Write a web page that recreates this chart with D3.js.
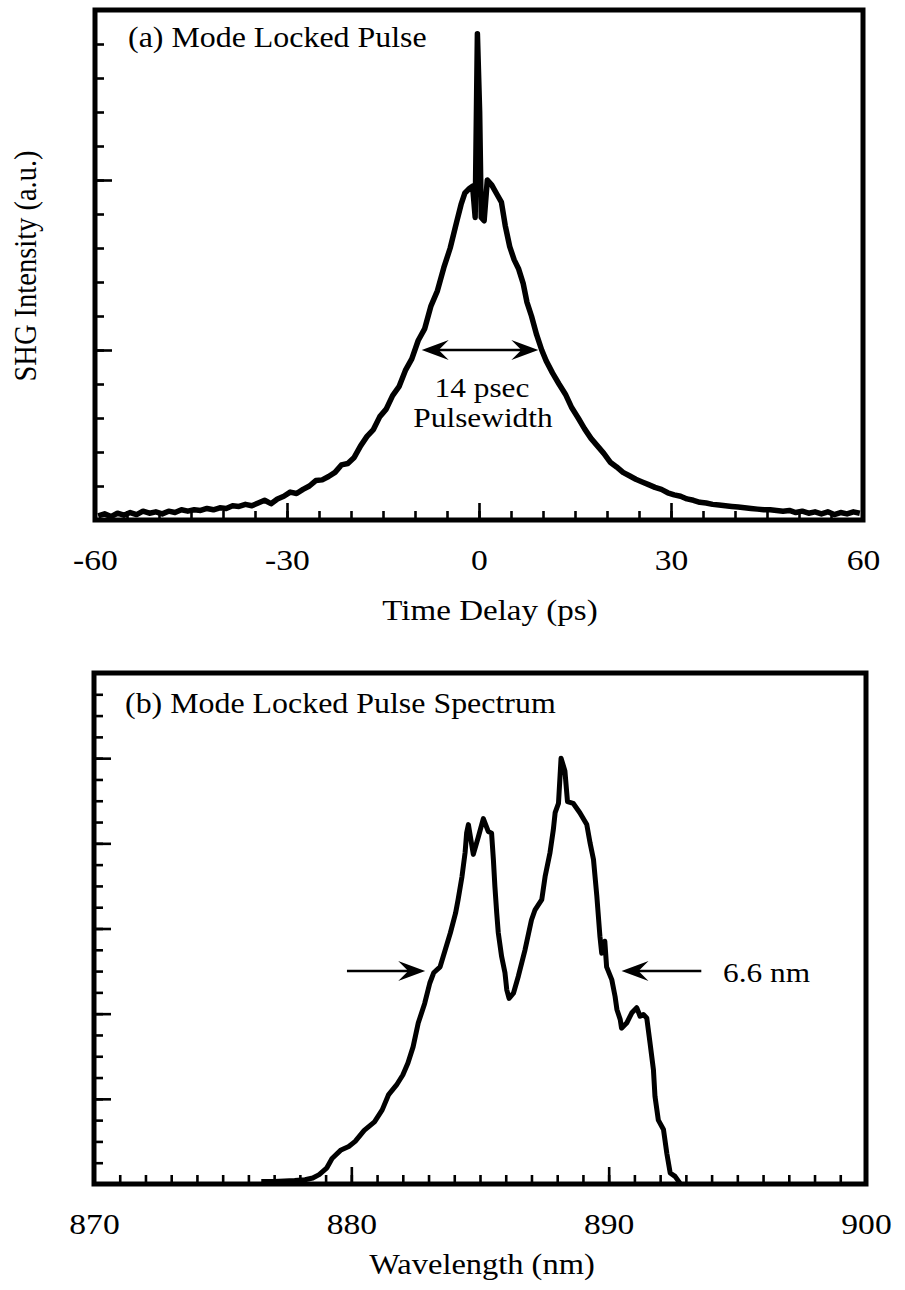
<!DOCTYPE html>
<html>
<head>
<meta charset="utf-8">
<script src="https://cdn.jsdelivr.net/npm/d3@7"></script>
<style>
  body { margin: 0; background: #fff; }
  svg text { font-family: "Liberation Serif", "Times New Roman", serif; fill: #000; }
</style>
</head>
<body>
<svg id="chart" width="905" height="1290"></svg>
<script>
// (a) autocorrelation trace
const delayPs = [-59.5, -58.5, -57.5, -56.5, -55.5, -54.5, -53.5, -52.5, -51.5, -50.5,
  -49.5, -48.5, -47.5, -46.5, -45.5, -44.5, -43.5, -42.5, -41.5, -40.5,
  -39.5, -38.5, -37.5, -36.5, -35.5, -34.5, -33.5, -32.5, -31.5, -30.5,
  -29.5, -28.5, -27.5, -26.5, -25.5, -24.5, -23.5, -22.5, -21.5, -20.5,
  -19.5, -18.5, -17.5, -16.5, -15.5, -14.5, -13.5, -12.5, -11.5, -10.5,
  -9.5, -8.5, -7.5, -6.5, -5.5, -4.5, -3.5, -2.8, -2.2, -1.5,
  -1.0, -0.6, -0.25, 0.1, 0.35, 0.8, 1.3, 2.0, 2.8, 3.5,
  4.1, 4.8, 5.5, 6.2, 6.9, 7.5, 8.2, 9.0, 9.8, 10.5,
  11.5, 12.5, 13.5, 14.5, 15.5, 16.5, 17.5, 18.5, 19.5, 20.5,
  21.5, 22.5, 23.5, 24.5, 25.5, 26.5, 27.5, 28.5, 29.5, 30.5,
  31.5, 32.5, 33.5, 34.5, 35.5, 36.5, 37.5, 38.5, 39.5, 40.5,
  41.5, 42.5, 43.5, 44.5, 45.5, 46.5, 47.5, 48.5, 49.5, 50.5,
  51.5, 52.5, 53.5, 54.5, 55.5, 56.5, 57.5, 58.5, 59.5];
const shgIntensity = [0.012, 0.018, 0.010, 0.020, 0.014, 0.022, 0.016, 0.026, 0.020, 0.024,
  0.018, 0.026, 0.022, 0.030, 0.026, 0.030, 0.028, 0.034, 0.030, 0.036,
  0.034, 0.042, 0.040, 0.046, 0.042, 0.050, 0.058, 0.048, 0.062, 0.070,
  0.082, 0.078, 0.090, 0.100, 0.116, 0.118, 0.128, 0.140, 0.162, 0.166,
  0.184, 0.218, 0.246, 0.266, 0.304, 0.326, 0.366, 0.392, 0.440, 0.474,
  0.528, 0.562, 0.630, 0.674, 0.742, 0.800, 0.876, 0.928, 0.962, 0.975,
  0.982, 0.890, 1.430, 1.200, 0.890, 0.880, 1.000, 0.985, 0.958, 0.935,
  0.866, 0.804, 0.765, 0.738, 0.696, 0.640, 0.600, 0.545, 0.500, 0.468,
  0.432, 0.400, 0.370, 0.330, 0.300, 0.268, 0.240, 0.218, 0.196, 0.170,
  0.156, 0.140, 0.130, 0.120, 0.112, 0.104, 0.096, 0.090, 0.080, 0.074,
  0.070, 0.062, 0.058, 0.052, 0.050, 0.046, 0.044, 0.042, 0.040, 0.038,
  0.036, 0.034, 0.032, 0.030, 0.030, 0.028, 0.026, 0.028, 0.022, 0.026,
  0.020, 0.024, 0.018, 0.024, 0.016, 0.022, 0.018, 0.024, 0.020];

// (b) spectrum
const wavelengthNm = [876.5, 877.0, 877.8, 878.2, 878.5, 878.75, 879.05, 879.25, 879.6, 879.9,
  880.15, 880.5, 880.9, 881.2, 881.45, 881.75, 882.0, 882.2, 882.4, 882.6,
  882.85, 883.05, 883.2, 883.45, 883.65, 883.85, 884.05, 884.15, 884.3, 884.42,
  884.48, 884.55, 884.74, 884.94, 885.13, 885.32, 885.45, 885.52, 885.58, 885.65,
  885.71, 885.84, 885.97, 886.04, 886.13, 886.3, 886.49, 886.75, 887.0, 887.14,
  887.4, 887.53, 887.72, 887.85, 887.92, 888.05, 888.15, 888.3, 888.4, 888.62,
  888.88, 889.15, 889.28, 889.41, 889.54, 889.66, 889.73, 889.85, 889.92, 890.12,
  890.25, 890.32, 890.45, 890.5, 890.7, 890.9, 891.09, 891.22, 891.35, 891.48,
  891.61, 891.74, 891.8, 891.93, 892.13, 892.26, 892.39, 892.58, 892.77];
const spectrumIntensity = [0.03, 0.03, 0.04, 0.05, 0.07, 0.11, 0.19, 0.30, 0.40, 0.44,
  0.50, 0.63, 0.73, 0.87, 1.05, 1.16, 1.28, 1.42, 1.61, 1.89,
  2.12, 2.36, 2.48, 2.55, 2.75, 2.95, 3.18, 3.34, 3.61, 3.89,
  4.12, 4.22, 3.87, 4.08, 4.29, 4.14, 4.12, 3.81, 3.49, 3.18,
  2.95, 2.67, 2.48, 2.28, 2.18, 2.24, 2.44, 2.75, 3.10, 3.22,
  3.34, 3.61, 3.89, 4.16, 4.36, 4.47, 5.00, 4.85, 4.49, 4.47,
  4.36, 4.22, 4.00, 3.81, 3.38, 2.91, 2.71, 2.85, 2.55, 2.40,
  2.20, 2.05, 1.93, 1.83, 1.89, 2.01, 2.07, 1.97, 1.99, 1.95,
  1.65, 1.34, 1.03, 0.75, 0.64, 0.36, 0.13, 0.09, 0.01];

const delayTicks = [-60, -30, 0, 30, 60];
const wavelengthTicks = [870, 880, 890, 900];

const SX = 1.12; // glyphs in the scan are a bit wide
const svg = d3.select('#chart');

function addText(g, x, y, str, size, anchor) {
  return g.append('text')
    .attr('transform', `translate(${x},${y}) scale(${SX},1)`)
    .attr('text-anchor', anchor || 'start')
    .style('font-size', size + 'px')
    .text(str);
}

function arrowHead(g, xTip, y, dir) {
  // dir = +1 points right, -1 points left
  const L = 27, W = 10, N = 17;
  g.append('path')
    .attr('d', `M${xTip},${y} L${xTip - dir * L},${y - W} L${xTip - dir * N},${y} L${xTip - dir * L},${y + W} Z`)
    .attr('fill', '#000');
}

function drawPanel(cfg) {
  const g = svg.append('g');
  const x = d3.scaleLinear().domain(cfg.xDomain).range(cfg.xRange);
  const y = d3.scaleLinear().domain(cfg.yDomain).range(cfg.yRange);
  const bottom = cfg.yRange[0];

  // minor ticks
  g.append('g').attr('transform', `translate(0,${bottom})`)
    .call(d3.axisBottom(x).tickValues(cfg.xMinor).tickSize(-9).tickFormat(''));
  g.append('g').attr('transform', `translate(${cfg.xRange[0]},0)`)
    .call(d3.axisLeft(y).tickValues(cfg.yMinor).tickSize(-9).tickFormat(''));
  // major ticks + labels
  const xAx = g.append('g').attr('transform', `translate(0,${bottom})`)
    .call(d3.axisBottom(x).tickValues(cfg.xMajor).tickSize(-17).tickPadding(29).tickFormat(d => String(d)));
  g.append('g').attr('transform', `translate(${cfg.xRange[0]},0)`)
    .call(d3.axisLeft(y).tickValues(cfg.yMajor).tickSize(-17).tickFormat(''));

  g.selectAll('.domain').remove();
  g.selectAll('.tick line').attr('stroke', '#000').attr('stroke-width', 2.6);
  xAx.selectAll('.tick text')
    .attr('fill', '#000')
    .attr('transform', `scale(${SX},1)`)
    .style('font-family', '"Liberation Serif", "Times New Roman", serif')
    .style('font-size', '30px');

  const line = d3.line().x(d => x(d[0])).y(d => y(d[1]));
  g.append('path')
    .datum(cfg.xs.map((v, i) => [v, cfg.ys[i]]))
    .attr('d', line)
    .attr('fill', 'none')
    .attr('stroke', '#000')
    .attr('stroke-width', cfg.lineWidth)
    .attr('stroke-linejoin', 'round');

  g.append('rect')
    .attr('x', cfg.xRange[0]).attr('y', cfg.yRange[1])
    .attr('width', cfg.xRange[1] - cfg.xRange[0])
    .attr('height', cfg.yRange[0] - cfg.yRange[1])
    .attr('fill', 'none').attr('stroke', '#000').attr('stroke-width', 5);

  return { g, x, y };
}

// ---- panel (a)
const a = drawPanel({
  xDomain: [-60, 60], xRange: [95, 863],
  yDomain: [0, 1.5], yRange: [520, 10],
  xMinor: d3.range(-60, 61, 5), xMajor: delayTicks,
  yMinor: d3.range(0, 16).map(i => i / 10), yMajor: [0.5, 1.0],
  xs: delayPs, ys: shgIntensity, lineWidth: 5.5
});
addText(a.g, 128, 47, '(a) Mode Locked Pulse', 28.5);
addText(a.g, 490, 620, 'Time Delay (ps)', 29.5, 'middle');
a.g.append('text')
  .attr('transform', `translate(36,266) scale(${SX},1) rotate(-90)`)
  .attr('text-anchor', 'middle')
  .style('font-size', '28.5px')
  .text('SHG Intensity (a.u.)');

// pulsewidth marker
const ay = a.y(0.5), al = a.x(-8.95), ar = a.x(9.27);
a.g.append('line').attr('x1', al + 10).attr('x2', ar - 10).attr('y1', ay).attr('y2', ay)
  .attr('stroke', '#000').attr('stroke-width', 2.5);
arrowHead(a.g, al, ay, -1);
arrowHead(a.g, ar, ay, 1);
addText(a.g, 482, 397, '14 psec', 28, 'middle');
addText(a.g, 483, 427, 'Pulsewidth', 28, 'middle');

// ---- panel (b)
const b = drawPanel({
  xDomain: [870, 900], xRange: [94, 866],
  yDomain: [0, 6], yRange: [1184, 673],
  xMinor: d3.range(870, 901, 1), xMajor: wavelengthTicks,
  yMinor: d3.range(0, 25).map(i => i / 4), yMajor: [1, 2, 3, 4, 5],
  xs: wavelengthNm, ys: spectrumIntensity, lineWidth: 5
});
addText(b.g, 125, 713, '(b) Mode Locked Pulse Spectrum', 28.5);
addText(b.g, 482, 1274, 'Wavelength (nm)', 29, 'middle');

const by = b.y(2.5);
const bl0 = b.x(879.83), bl1 = b.x(882.87), br0 = b.x(890.5), br1 = b.x(893.6);
b.g.append('line').attr('x1', bl0).attr('x2', bl1 - 10).attr('y1', by).attr('y2', by)
  .attr('stroke', '#000').attr('stroke-width', 2.5);
arrowHead(b.g, bl1, by, 1);
b.g.append('line').attr('x1', br0 + 10).attr('x2', br1).attr('y1', by).attr('y2', by)
  .attr('stroke', '#000').attr('stroke-width', 2.5);
arrowHead(b.g, br0, by, -1);
addText(b.g, 723, 982, '6.6 nm', 28);
</script>
</body>
</html>
